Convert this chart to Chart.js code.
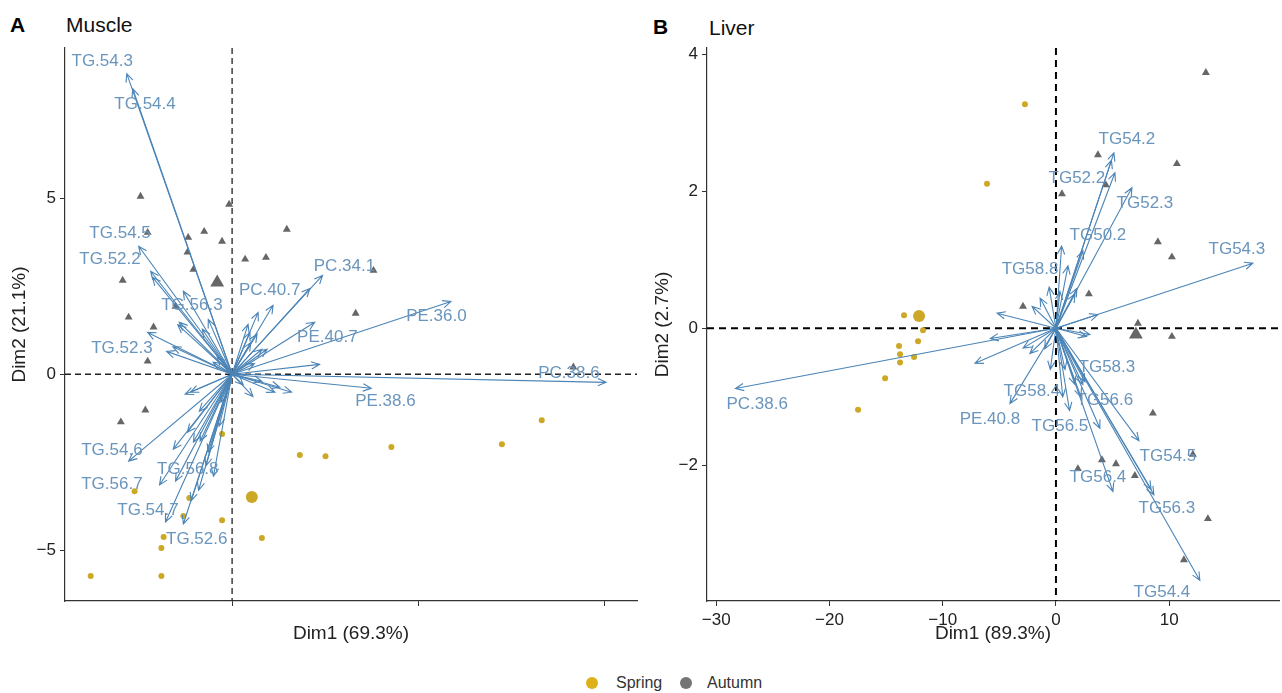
<!DOCTYPE html>
<html><head><meta charset="utf-8">
<script src="https://cdn.jsdelivr.net/npm/chart.js@4.4.1/dist/chart.umd.min.js"></script>
<style>
body{margin:0;background:#fff;width:1282px;height:693px;overflow:hidden;position:relative;font-family:"Liberation Sans",Arial,sans-serif;}
canvas{position:absolute;top:0;}
#c1{left:0;}
#c2{left:645px;}
.tag{position:absolute;font-weight:bold;font-size:21px;line-height:24px;color:#000;}
.ttl{position:absolute;font-size:21px;line-height:24px;color:#111;}
.leg{position:absolute;top:673px;font-size:16px;line-height:20px;color:#333;}
.dot{position:absolute;top:677px;width:12px;height:12px;border-radius:50%;}
</style></head>
<body>
<div class="tag" style="left:10px;top:13px">A</div>
<div class="ttl" style="left:66px;top:13px">Muscle</div>
<div class="tag" style="left:653px;top:15px">B</div>
<div class="ttl" style="left:709px;top:16px">Liver</div>
<canvas id="c1" width="645" height="650"></canvas>
<canvas id="c2" width="642" height="650"></canvas>
<div class="dot" style="left:586px;background:#DDB11A"></div>
<div class="leg" style="left:616px">Spring</div>
<div class="dot" style="left:680px;background:#747474"></div>
<div class="leg" style="left:707px">Autumn</div>
<script>
// ---------- Muscle (A) ----------
const muscleSpring = [[-0.27,-1.70],[1.82,-2.30],[2.51,-2.33],[-2.62,-3.33],[-1.15,-3.52],[-1.31,-4.03],[-0.27,-4.15],[-1.84,-4.63],[0.80,-4.66],[-1.90,-4.94],[-3.80,-5.74],[-1.90,-5.74],[4.28,-2.07],[7.25,-1.99],[8.32,-1.31]];
const muscleAutumn = [[-2.46,5.06],[-0.08,4.83],[-2.27,4.03],[-1.18,3.89],[-0.75,4.06],[-0.27,3.78],[-1.20,3.47],[-1.04,2.98],[0.35,3.27],[0.91,3.32],[1.47,4.12],[-2.94,2.67],[-2.78,1.62],[-2.11,1.34],[-2.27,0.37],[-1.52,1.93],[3.80,2.95],[3.32,1.73],[9.17,0.20],[-2.99,-1.36],[-2.33,-1.02]];
const muscleSpringMean = [0.53,-3.49];
const muscleAutumnMean = [-0.40,2.61];
const muscleVarNames = ["TG.54.3","TG.54.4","TG.54.5","TG.52.2","TG.56.3","TG.52.3","PC.40.7","PC.34.1","PE.36.0","PE.40.7","PE.38.6","PC.38.6","TG.54.6","TG.56.8","TG.56.7","TG.54.7","TG.52.6"];
const muscleVarTips = [[-2.83,8.55],[-2.67,8.12],[-2.51,3.64],[-2.19,2.93],[-1.31,2.36],[-2.27,1.19],[2.09,2.44],[2.43,2.81],[5.88,2.07],[2.22,1.48],[3.74,-0.40],[10.05,-0.23],[-2.78,-2.47],[-1.52,-3.04],[-1.95,-3.15],[-1.79,-4.20],[-1.31,-4.26]];
const muscleLabelAt = [[-3.49,8.89],[-2.34,7.69],[-3.01,4.02],[-3.28,3.27],[-1.08,1.95],[-2.96,0.75],[1.01,2.40],[3.02,3.08],[5.49,1.64],[2.56,1.04],[4.12,-0.78],[9.05,0.04],[-3.23,-2.15],[-1.19,-2.69],[-3.23,-3.14],[-2.26,-3.86],[-0.95,-4.69]];
const muscleMinorTips = [[-2.14,2.76],[-1.42,1.48],[-0.80,1.28],[-0.64,1.56],[-1.76,0.65],[-0.51,0.34],[-1.26,-0.57],[1.10,1.96],[0.70,1.76],[0.43,1.42],[0.67,1.14],[0.94,0.71],[2.35,0.28],[1.60,-0.51],[1.15,-0.51],[0.56,-0.63],[1.28,-0.37],[-1.12,-0.51],[-0.88,-1.05],[-1.20,-1.65],[-1.04,-1.93],[-0.86,-1.90],[-0.64,-2.22],[-0.35,-1.48],[-1.58,-2.13],[0.80,0.71],[0.48,1.19],[-0.50,-2.90],[-0.90,-3.30],[-1.10,-3.60],[-0.70,-2.60],[0.60,0.30],[0.80,-0.20],[-0.40,0.50],[0.30,-0.30],[0.50,0.90],[-0.30,-0.80],[-1.46,1.41],[-1.59,0.78]];
const muscleXTicks = [0,5,10];
const muscleYTicks = [-5,0,5];

// ---------- Liver (B) ----------
const liverSpring = [[-13.42,0.19],[-11.74,-0.03],[-12.18,-0.19],[-13.86,-0.26],[-13.77,-0.38],[-13.77,-0.50],[-12.53,-0.42],[-15.09,-0.73],[-17.48,-1.19],[-2.74,3.27],[-6.09,2.11]];
const liverAutumn = [[13.24,3.73],[3.71,2.53],[10.68,2.40],[4.41,2.09],[0.53,1.96],[9.00,1.26],[10.24,1.04],[2.91,0.50],[-2.91,0.32],[7.24,0.07],[10.24,-0.12],[8.56,-1.24],[12.09,-1.84],[4.06,-1.92],[5.30,-1.98],[1.94,-2.05],[6.97,-2.15],[13.42,-2.78],[11.30,-3.38]];
const liverSpringMean = [-12.09,0.18];
const liverAutumnMean = [7.06,-0.09];
const liverVarNames = ["TG54.2","TG52.2","TG52.3","TG50.2","TG58.8","TG54.3","PC.38.6","TG58.3","TG58.4","TG56.6","PE.40.8","TG56.5","TG54.5","TG56.4","TG56.3","TG54.4"];
const liverVarTips = [[5.12,2.56],[5.21,2.27],[6.71,2.05],[2.38,1.13],[1.06,0.91],[17.39,0.95],[-28.3,-0.88],[2.38,-0.82],[-4.06,-1.10],[1.68,-0.82],[-7.15,-0.51],[3.88,-1.46],[7.33,-1.64],[5.03,-2.38],[8.65,-2.43],[12.71,-3.68]];
const liverLabelAt = [[6.27,2.76],[1.85,2.19],[7.86,1.83],[3.71,1.35],[-2.29,0.86],[15.98,1.15],[-26.39,-1.11],[4.50,-0.57],[-2.12,-0.92],[4.32,-1.05],[-5.83,-1.33],[0.35,-1.43],[9.89,-1.87],[3.71,-2.18],[9.80,-2.63],[9.36,-3.85]];
const liverMinorTips = [[-5.2,0.22],[-2.1,0.32],[3.7,0.2],[3.0,-0.09],[0.35,0.54],[1.68,0.5],[1.85,0.58],[-1.4,0.44],[-2.9,-0.29],[-5.8,-0.15],[-2.3,-0.37],[2.7,-0.12],[2.56,-0.78],[4.9,2.45],[0.8,-0.6],[1.2,-1.2],[-0.5,-0.6],[-1.0,-0.3],[8.4,-2.35],[0.5,1.2],[-0.6,0.6],[2.2,-1.0],[0.6,-1.0]];
const liverXTicks = [-30,-20,-10,0,10];
const liverYTicks = [-2,0,2,4];

const ARROW = '#4B84B6', LABEL = '#6A95BC', GOLD = '#CCA826', GREY = '#666666';
const FONT = '"Liberation Sans", Arial, sans-serif';
const fmt = v => (v < 0 ? '\u2212' + Math.abs(v) : String(v));
const pts = a => a.map(p => ({x:p[0], y:p[1]}));

function biplotPlugin(tips, minor, names, labelAt, zeroStyle){
  return {
    id:'biplot',
    beforeDatasetsDraw(chart){
      const {ctx, chartArea:ca, scales:{x, y}} = chart;
      const x0 = x.getPixelForValue(0), y0 = y.getPixelForValue(0);
      ctx.save();
      ctx.strokeStyle = zeroStyle.color; ctx.lineWidth = zeroStyle.width; ctx.setLineDash(zeroStyle.dash);
      ctx.beginPath(); ctx.moveTo(x0, ca.top); ctx.lineTo(x0, ca.bottom); ctx.stroke();
      ctx.beginPath(); ctx.moveTo(ca.left, y0); ctx.lineTo(ca.right, y0); ctx.stroke();
      ctx.restore();
    },
    afterDatasetsDraw(chart){
      const {ctx, scales:{x, y}} = chart;
      const ox = x.getPixelForValue(0), oy = y.getPixelForValue(0);
      ctx.save();
      ctx.strokeStyle = ARROW; ctx.lineWidth = 1.1; ctx.setLineDash([]);
      const all = minor.concat(tips);
      for (const t of all){
        const tx = x.getPixelForValue(t[0]), ty = y.getPixelForValue(t[1]);
        const a = Math.atan2(ty-oy, tx-ox), L = 9, s = 0.42;
        ctx.beginPath();
        ctx.moveTo(ox, oy); ctx.lineTo(tx, ty);
        ctx.moveTo(tx - L*Math.cos(a-s), ty - L*Math.sin(a-s));
        ctx.lineTo(tx, ty);
        ctx.lineTo(tx - L*Math.cos(a+s), ty - L*Math.sin(a+s));
        ctx.stroke();
      }
      ctx.fillStyle = LABEL; ctx.font = '17px ' + FONT;
      ctx.textAlign = 'center'; ctx.textBaseline = 'middle';
      names.forEach((n,i) => {
        ctx.fillText(n, x.getPixelForValue(labelAt[i][0]), y.getPixelForValue(labelAt[i][1]));
      });
      ctx.restore();
    }
  };
}

function axis(min, max, ticks, showLabels, title, size, titlePad, horizontal){
  return {
    type:'linear', min, max,
    afterBuildTicks: s => { s.ticks = ticks.map(v => ({value:v})); },
    afterFit: s => { if (horizontal) s.height = size; else s.width = size; },
    grid:{display:true, drawOnChartArea:false, drawTicks:true, tickLength:5, color:'#333', lineWidth:1},
    border:{display:true, color:'#333', width:1.2},
    ticks:{color: showLabels ? '#222' : 'rgba(0,0,0,0)', font:{size:17, family:FONT}, padding:4, maxRotation:0, autoSkip:false, callback: v => fmt(v)},
    title:{display:true, text:title, color:'#222', font:{size:19, family:FONT}, padding: horizontal ? {bottom:titlePad, top:0} : {top:titlePad, bottom:0}}
  };
}

function makeChart(id, d){
  return new Chart(document.getElementById(id), {
    type:'scatter',
    data:{datasets:[
      {data:pts(d.autumn), pointStyle:'triangle', pointRadius:4.6, backgroundColor:GREY, borderColor:GREY, borderWidth:0},
      {data:pts(d.spring), pointStyle:'circle', pointRadius:3, backgroundColor:GOLD, borderColor:GOLD, borderWidth:0},
      {data:pts([d.autumnMean]), pointStyle:'triangle', pointRadius:8, backgroundColor:GREY, borderColor:GREY, borderWidth:0},
      {data:pts([d.springMean]), pointStyle:'circle', pointRadius:6, backgroundColor:GOLD, borderColor:GOLD, borderWidth:0}
    ]},
    options:{
      responsive:false, animation:false, events:[],
      layout:{padding:{top:48, right:d.padRight, left:0, bottom:0}},
      plugins:{legend:{display:false}, tooltip:{enabled:false}},
      scales:{
        x: axis(d.xmin, d.xmax, d.xticks, d.xLabels, d.xtitle, 49, 4.6, true),
        y: axis(d.ymin, d.ymax, d.yticks, true, d.ytitle, d.yWidth, d.yTitlePad, false)
      }
    },
    plugins:[biplotPlugin(d.tips, d.minor, d.names, d.labelAt, d.zero)]
  });
}

makeChart('c1', {
  autumn:muscleAutumn, spring:muscleSpring, autumnMean:muscleAutumnMean, springMean:muscleSpringMean,
  tips:muscleVarTips, minor:muscleMinorTips, names:muscleVarNames, labelAt:muscleLabelAt,
  xmin:-4.49, xmax:10.88, ymin:-6.45, ymax:9.28, xticks:muscleXTicks, yticks:muscleYTicks, xLabels:false,
  xtitle:'Dim1 (69.3%)', ytitle:'Dim2 (21.1%)', yWidth:65, yTitlePad:8.6, padRight:7,
  zero:{color:'#222', width:1.3, dash:[6,4]}
});
makeChart('c2', {
  autumn:liverAutumn, spring:liverSpring, autumnMean:liverAutumnMean, springMean:liverSpringMean,
  tips:liverVarTips, minor:liverMinorTips, names:liverVarNames, labelAt:liverLabelAt,
  xmin:-30.82, xmax:19.7, ymin:-3.98, ymax:4.09, xticks:liverXTicks, yticks:liverYTicks, xLabels:true,
  xtitle:'Dim1 (89.3%)', ytitle:'Dim2 (2.7%)', yWidth:62, yTitlePad:6.6, padRight:3,
  zero:{color:'#000', width:2, dash:[7,5]}
});
</script>
</body></html>
